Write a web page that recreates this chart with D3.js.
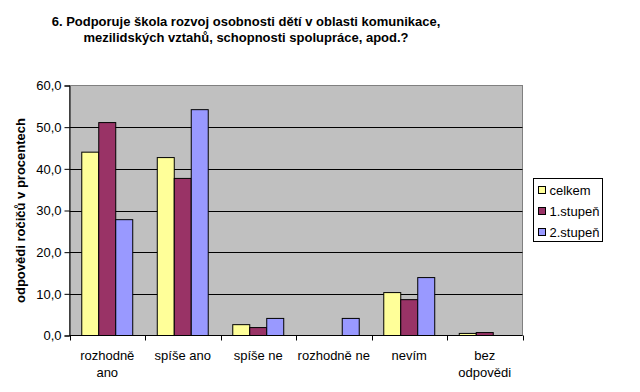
<!DOCTYPE html>
<html>
<head>
<meta charset="utf-8">
<script src="https://cdn.jsdelivr.net/npm/d3@7"></script>
<style>
  body { margin: 0; background: #fff; }
  svg text { font-family: "Liberation Sans", Arial, sans-serif; fill: #000; }
</style>
</head>
<body>
<div class="chart"></div>
<script>
// data
const categories = [["rozhodně", "ano"], ["spíše ano"], ["spíše ne"], ["rozhodně ne"], ["nevím"], ["bez", "odpovědi"]];
const seriesNames = ["celkem", "1.stupeň", "2.stupeň"];
const celkem = [44.0, 42.7, 2.6, 0, 10.3, 0.5];
const stupen1 = [51.1, 37.7, 1.9, 0, 8.6, 0.7];
const stupen2 = [27.8, 54.2, 4.1, 4.1, 13.9, 0];
const yTicks = [0, 10, 20, 30, 40, 50, 60];
const colors = ["#FFFF99", "#993366", "#9999FF"];

const W = 640, H = 392;
const plot = { left: 69.5, right: 522.5, top: 85.5, bottom: 335.5 };

const svg = d3.select(".chart")
    .append("svg")
    .attr("width", W)
    .attr("height", H);

const catIdx = categories.map((d, i) => i);
const x0 = d3.scaleBand()
    .domain(catIdx)
    .range([plot.left, plot.right])
    .paddingInner(0.325)
    .paddingOuter(0.1625);
const x1 = d3.scaleBand()
    .domain([0, 1, 2])
    .range([0, x0.bandwidth()]);
const y = d3.scaleLinear()
    .domain([0, 60])
    .range([plot.bottom, plot.top]);

// plot background
svg.append("rect")
    .attr("x", plot.left)
    .attr("y", plot.top)
    .attr("width", plot.right - plot.left)
    .attr("height", plot.bottom - plot.top)
    .attr("fill", "#C0C0C0")
    .attr("stroke", "#808080");

// gridlines
svg.selectAll(".grid")
    .data(yTicks.filter(d => d > 0 && d < 60))
    .enter()
    .append("line")
    .attr("x1", plot.left)
    .attr("x2", plot.right)
    .attr("y1", d => Math.round(y(d)) + 0.5)
    .attr("y2", d => Math.round(y(d)) + 0.5)
    .attr("stroke", "#000");

// bars
const series = [celkem, stupen1, stupen2];
const groups = svg.selectAll(".grp")
    .data(catIdx)
    .enter()
    .append("g")
    .attr("transform", d => `translate(${x0(d)},0)`);

groups.selectAll("rect")
    .data(i => series.map((s, k) => ({ k: k, v: s[i] })).filter(d => d.v > 0))
    .enter()
    .append("rect")
    .attr("x", d => x1(d.k))
    .attr("y", d => y(d.v))
    .attr("width", x1.bandwidth())
    .attr("height", d => y(0) - y(d.v))
    .attr("fill", d => colors[d.k])
    .attr("stroke", "#000")
    .attr("stroke-width", 1);

// y axis
const yAxis = d3.axisLeft(y)
    .tickValues(yTicks)
    .tickSize(5)
    .tickFormat(d => d3.format(".1f")(d).replace(".", ","));
const ya = svg.append("g")
    .attr("transform", `translate(${plot.left},0)`)
    .call(yAxis);
ya.select(".domain").attr("stroke", "#000");
ya.selectAll(".tick text")
    .attr("font-size", 13)
    .attr("x", -8)
    .attr("font-family", "Liberation Sans, Arial, sans-serif");

// x axis with ticks at category borders
const bounds = d3.range(categories.length + 1).map(i => plot.left + i * x0.step());
svg.append("line")
    .attr("x1", plot.left).attr("x2", plot.right)
    .attr("y1", plot.bottom).attr("y2", plot.bottom)
    .attr("stroke", "#000");
svg.selectAll(".xtick")
    .data(bounds)
    .enter()
    .append("line")
    .attr("x1", d => Math.round(d) + 0.5)
    .attr("x2", d => Math.round(d) + 0.5)
    .attr("y1", plot.bottom)
    .attr("y2", plot.bottom + 5)
    .attr("stroke", "#000");

const xl = svg.selectAll(".xlab")
    .data(catIdx)
    .enter()
    .append("text")
    .attr("text-anchor", "middle")
    .attr("font-size", 13)
    .attr("transform", d => `translate(${x0(d) + x0.bandwidth() / 2},0)`);
xl.selectAll("tspan")
    .data(d => categories[d])
    .enter()
    .append("tspan")
    .attr("x", 0)
    .attr("y", (d, i) => 360 + i * 17)
    .text(d => d);

// title
svg.append("text")
    .attr("text-anchor", "middle")
    .attr("font-size", 13)
    .attr("font-weight", "bold")
    .selectAll("tspan")
    .data(["6. Podporuje škola rozvoj osobnosti dětí v oblasti komunikace,",
           "mezilidských vztahů, schopnosti spolupráce, apod.?"])
    .enter()
    .append("tspan")
    .attr("x", 246)
    .attr("y", (d, i) => 26 + i * 15.5)
    .text(d => d);

// y axis title
svg.append("text")
    .attr("transform", `translate(25,${(plot.top + plot.bottom) / 2}) rotate(-90)`)
    .attr("text-anchor", "middle")
    .attr("font-size", 13)
    .attr("font-weight", "bold")
    .text("odpovědi ročičů v procentech");

// legend
const leg = svg.append("g").attr("transform", "translate(533.5,178.5)");
leg.append("rect")
    .attr("width", 69)
    .attr("height", 63)
    .attr("fill", "#fff")
    .attr("stroke", "#000");
const items = leg.selectAll(".item")
    .data(seriesNames)
    .enter()
    .append("g")
    .attr("transform", (d, i) => `translate(5,${11.5 + i * 21})`);
items.append("rect")
    .attr("x", 0)
    .attr("y", -3.5)
    .attr("width", 7)
    .attr("height", 7)
    .attr("fill", (d, i) => colors[i])
    .attr("stroke", "#000");
items.append("text")
    .attr("x", 11)
    .attr("y", 5)
    .attr("font-size", 13)
    .text(d => d);
</script>
</body>
</html>
